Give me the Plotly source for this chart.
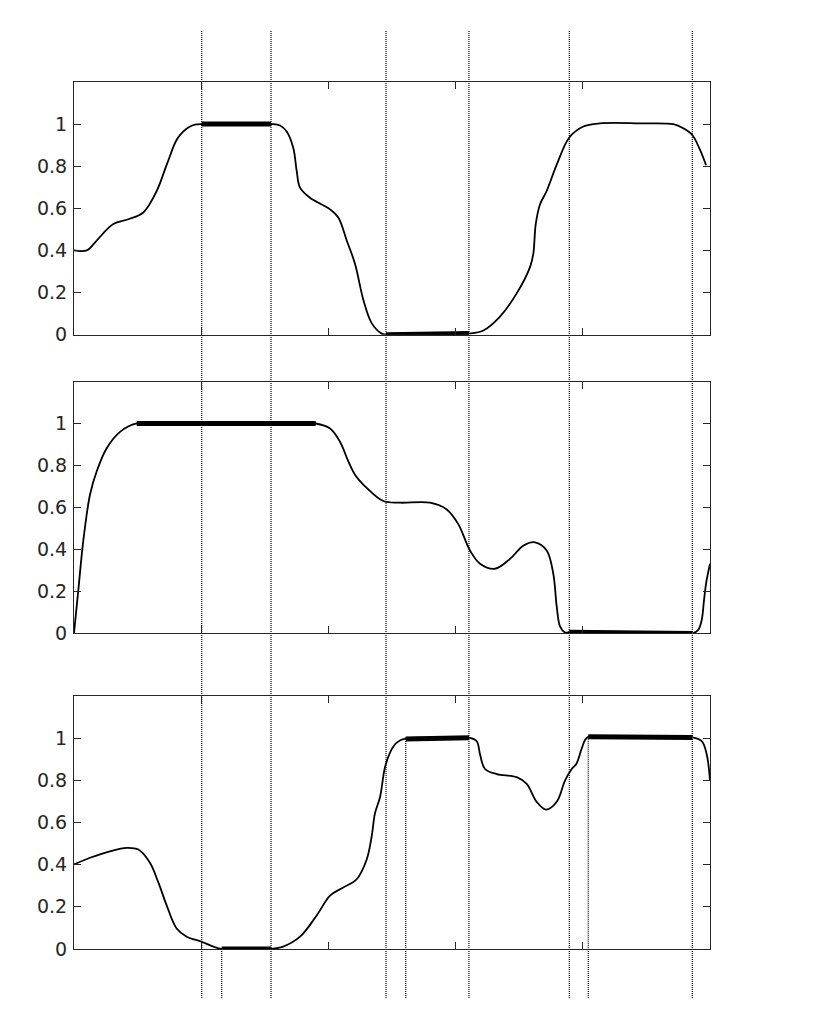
import plotly.graph_objects as go
from plotly.subplots import make_subplots

# ---------------- data ----------------
top_x = [0, 0.1, 0.178, 0.309, 0.427, 0.545, 0.65, 0.729, 0.807, 0.86, 0.912, 0.96, 1.004, 1.30,
         1.549, 1.62, 1.672, 1.724, 1.751, 1.777, 1.855, 2.013, 2.078, 2.144, 2.209, 2.275, 2.34,
         2.419, 2.453, 2.8, 3.105, 3.218, 3.349, 3.48, 3.585, 3.611, 3.63, 3.664, 3.716, 3.795,
         3.894, 4.004, 4.135, 4.45, 4.712, 4.79, 4.861, 4.921, 4.969]
top_y = [0.40, 0.40, 0.447, 0.525, 0.548, 0.58, 0.682, 0.807, 0.925, 0.965, 0.988, 0.998, 1.0, 1.0,
         1.0, 0.993, 0.964, 0.886, 0.776, 0.698, 0.65, 0.595, 0.556, 0.447, 0.337, 0.165, 0.055,
         0.005, 0.0, 0.003, 0.005, 0.02, 0.086, 0.196, 0.321, 0.384, 0.525, 0.619, 0.682, 0.807,
         0.936, 0.988, 1.003, 1.003, 0.999, 0.98, 0.948, 0.878, 0.804]

mid_x = [0, 0.034, 0.073, 0.126, 0.178, 0.257, 0.362, 0.493, 1.2, 1.90, 2.013, 2.091, 2.157, 2.209,
         2.301, 2.432, 2.563, 2.799, 2.930, 3.021, 3.113, 3.192, 3.31, 3.428, 3.532, 3.624, 3.716,
         3.768, 3.795, 3.821, 3.86, 3.894, 4.4, 4.861, 4.908, 4.935, 4.953, 4.969, 5.0]
mid_y = [0, 0.205, 0.44, 0.661, 0.771, 0.882, 0.96, 1.0, 1.0, 1.0, 0.976, 0.913, 0.819, 0.756,
         0.693, 0.63, 0.622, 0.622, 0.59, 0.52, 0.394, 0.331, 0.307, 0.354, 0.417, 0.433, 0.394,
         0.283, 0.126, 0.032, 0.003, 0.004, 0.001, -0.002, 0.016, 0.063, 0.157, 0.236, 0.331]

bot_x = [0, 0.126, 0.283, 0.414, 0.506, 0.597, 0.663, 0.729, 0.807, 0.886, 1.004, 1.095, 1.161,
         1.35, 1.549, 1.645, 1.777, 1.908, 2.013, 2.117, 2.222, 2.301, 2.34, 2.366, 2.406, 2.445,
         2.49, 2.537, 2.608, 2.85, 3.105, 3.166, 3.192, 3.231, 3.323, 3.48, 3.559, 3.637, 3.711,
         3.795, 3.86, 3.913, 3.95, 3.99, 4.02, 4.043, 4.45, 4.861, 4.935, 4.974, 5.0]
bot_y = [0.401, 0.433, 0.464, 0.48, 0.472, 0.409, 0.316, 0.206, 0.097, 0.058, 0.034, 0.011, 0.0,
         0.0, 0.0, 0.011, 0.058, 0.159, 0.253, 0.292, 0.331, 0.425, 0.534, 0.644, 0.722, 0.863,
         0.94, 0.98, 1.0, 1.002, 1.004, 0.987, 0.925, 0.855, 0.831, 0.816, 0.784, 0.699, 0.662,
         0.699, 0.8, 0.855, 0.88, 0.95, 0.995, 1.008, 1.007, 1.005, 0.987, 0.925, 0.8]

# thick plateau segments: (x0, y0, x1, y1)
top_bars = [(1.004, 1.0, 1.549, 1.0), (2.453, 0.0, 3.105, 0.006)]
mid_bars = [(0.493, 1.0, 1.90, 1.0), (3.894, 0.004, 4.861, -0.002)]
bot_bars = [(1.161, 0.0, 1.549, 0.0), (2.608, 0.998, 3.105, 1.004), (4.043, 1.008, 4.861, 1.005)]

# vertical dotted markers
full_lines_x = [1.004, 1.549, 2.453, 3.105, 3.894, 4.861]
extra_lines_x = [1.161, 2.608, 4.043]
extra_lines_y = [0.0, 0.998, 1.008]

y_tickvals = [0, 0.2, 0.4, 0.6, 0.8, 1]
y_ticktext = ["0", "0.2", "0.4", "0.6", "0.8", "1"]
x_tickvals = [1, 2, 3, 4]

# ---------------- layout geometry ----------------
OFF = 8                      # page body margin
W, H = 829 - 2 * OFF, 1006
def px_x(p):
    return (p - OFF) / W
def px_y(p):
    return (H - (p - OFF)) / H

x_dom = [px_x(74), px_x(710)]
y_doms = [
    [px_y(338.3), px_y(82.7)],
    [px_y(640.0), px_y(385.7)],
    [px_y(959.3), px_y(704.0)],
]
line_top = px_y(31)
line_bot = px_y(1009)

AX = "#262626"
DOT = "1px,1px"

fig = make_subplots(rows=3, cols=1)

series = [(top_x, top_y, top_bars), (mid_x, mid_y, mid_bars), (bot_x, bot_y, bot_bars)]
for i, (xs, ys, bars) in enumerate(series, start=1):
    fig.add_trace(go.Scatter(x=xs, y=ys, mode="lines",
                             line=dict(color="black", width=1.8, shape="spline", smoothing=1.0),
                             showlegend=False, hoverinfo="skip"), row=i, col=1)
    for (x0, y0, x1, y1) in bars:
        fig.add_trace(go.Scatter(x=[x0, x1], y=[y0, y1], mode="lines",
                                 line=dict(color="black", width=5),
                                 showlegend=False, hoverinfo="skip"), row=i, col=1)

# extra dotted lines inside the bottom plot (from plateau start down to axis)
for xv, yv in zip(extra_lines_x, extra_lines_y):
    fig.add_trace(go.Scatter(x=[xv, xv], y=[yv, 0], mode="lines",
                             line=dict(color="black", width=1.2, dash=DOT),
                             showlegend=False, hoverinfo="skip"), row=3, col=1)

shapes = []
for xv in full_lines_x:
    shapes.append(dict(type="line", xref="x", yref="paper", x0=xv, x1=xv,
                       y0=line_bot, y1=line_top, layer="below",
                       line=dict(color="black", width=1.2, dash=DOT)))
for xv in extra_lines_x:
    shapes.append(dict(type="line", xref="x3", yref="paper", x0=xv, x1=xv,
                       y0=line_bot, y1=y_doms[2][0], layer="below",
                       line=dict(color="black", width=1.2, dash=DOT)))

layout = dict(
    width=W, height=H,
    margin=dict(l=0, r=0, t=0, b=0),
    paper_bgcolor="white", plot_bgcolor="rgba(0,0,0,0)",
    shapes=shapes,
    font=dict(family="DejaVu Sans", size=19, color=AX),
)
for i in range(1, 4):
    sfx = "" if i == 1 else str(i)
    layout["xaxis" + sfx] = dict(
        domain=x_dom, range=[0, 5], tickvals=x_tickvals, ticks="inside", ticklen=7,
        tickwidth=1, tickcolor=AX, showticklabels=False, showline=True, linecolor=AX,
        linewidth=1, mirror="ticks", showgrid=False, zeroline=False,
        anchor="y" + sfx,
    )
    layout["yaxis" + sfx] = dict(
        domain=y_doms[i - 1], range=[0, 1.2], tickvals=y_tickvals, ticktext=y_ticktext,
        ticks="inside", ticklen=7, tickwidth=1, tickcolor=AX, showline=True, linecolor=AX,
        linewidth=1, mirror="ticks", showgrid=False, zeroline=False,
        tickfont=dict(family="DejaVu Sans", size=19, color=AX),
        ticklabelstandoff=2,
        anchor="x" + sfx,
    )
fig.update_layout(**layout)

fig.write_html("out.html")
